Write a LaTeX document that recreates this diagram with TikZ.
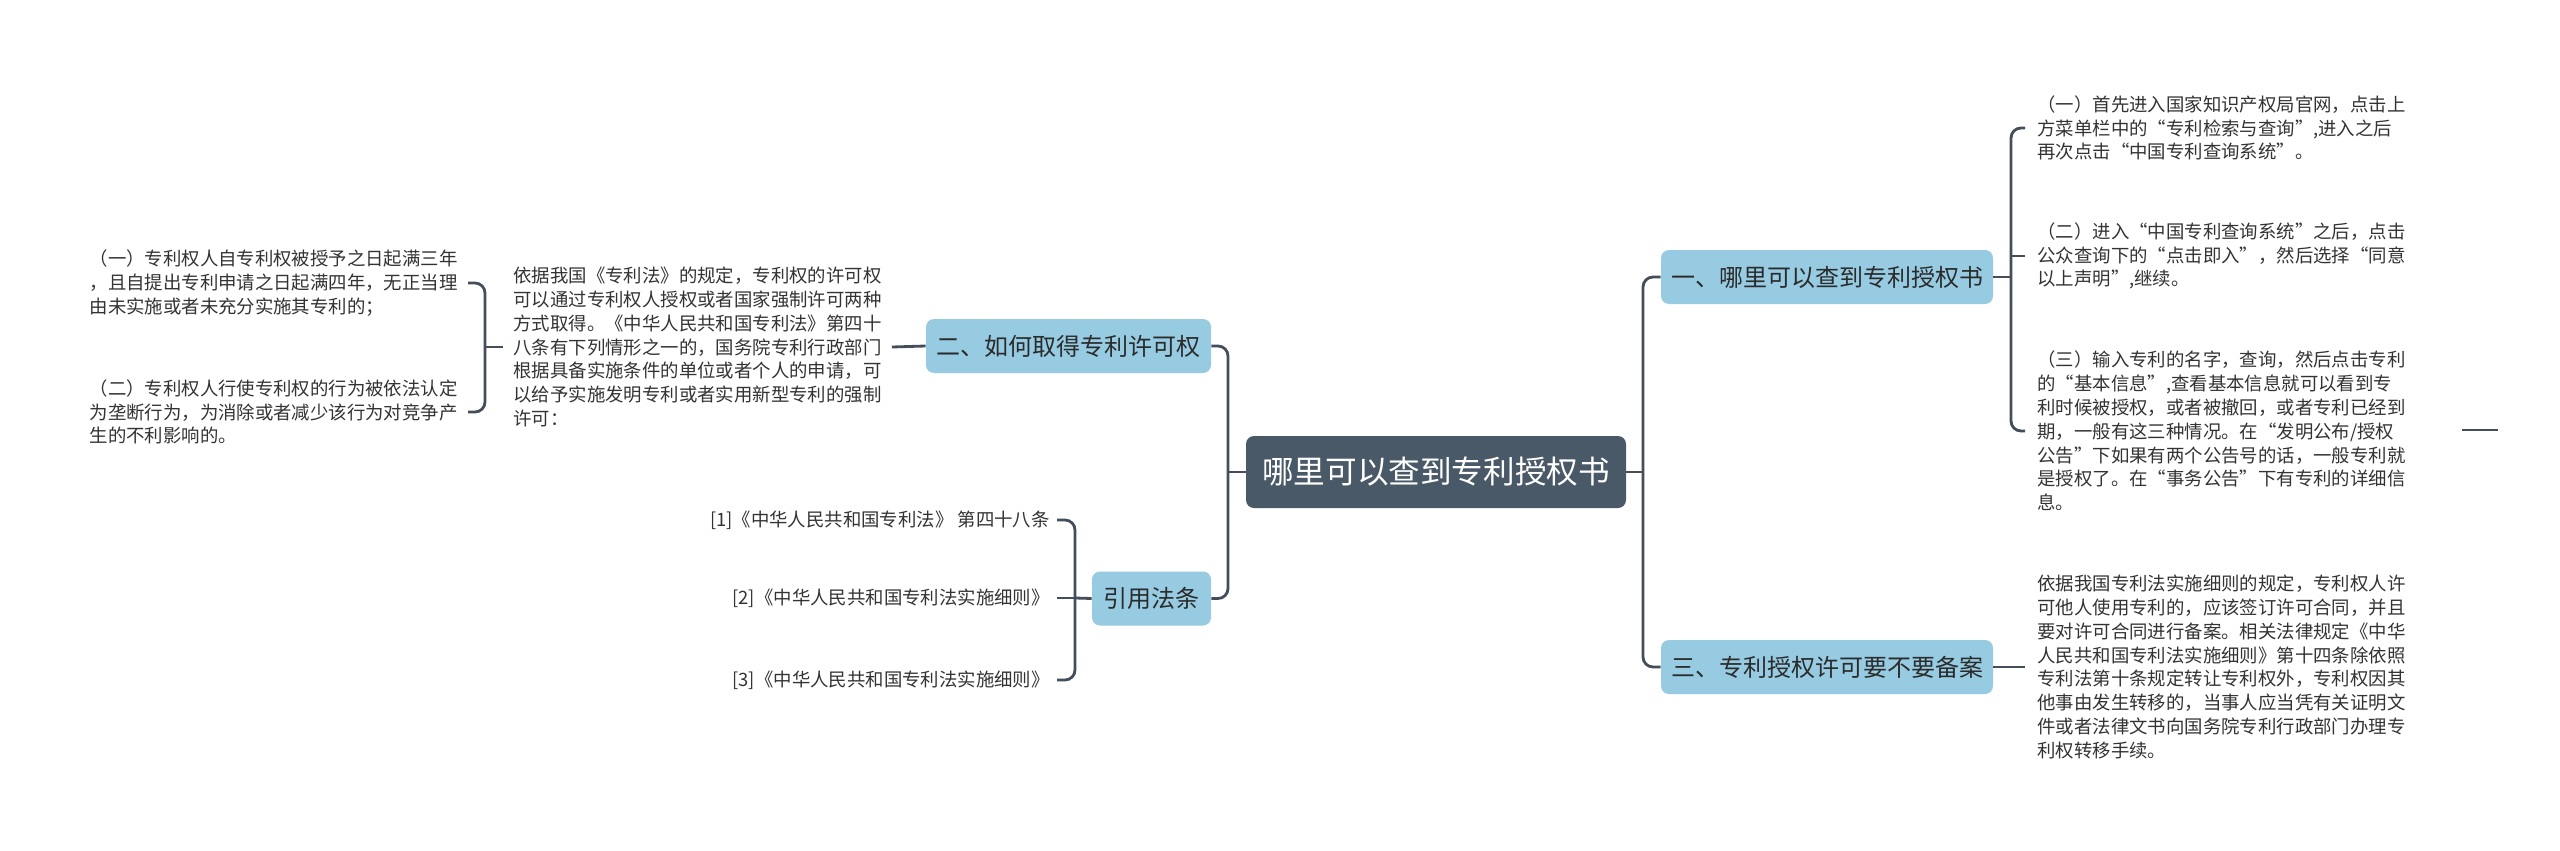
\documentclass[tikz,border=0pt]{standalone}
\usepackage{fontspec}
\setmainfont{Noto Sans CJK SC}
\definecolor{connc}{HTML}{434E5A}
\definecolor{topicblue}{HTML}{96CBE2}
\definecolor{rootc}{HTML}{4A5968}
\definecolor{boxtext}{HTML}{2B2B2B}
\definecolor{leaftext}{HTML}{333333}
\begin{document}
\begin{tikzpicture}[x=0.5pt,y=-0.5pt,
  conn/.style={draw=connc, line width=1.4pt, rounded corners=5pt},
  leafnode/.style={inner xsep=6pt, inner ysep=0pt, align=left, text=leaftext,
    font=\fontsize{9.2pt}{11.9pt}\selectfont},
  topicbox/.style={fill=topicblue, rounded corners=4pt, text=boxtext,
    font=\fontsize{12pt}{14pt}\selectfont, minimum height=27pt, inner sep=0pt},
  rootbox/.style={fill=rootc, rounded corners=4pt, text=white,
    font=\fontsize{15.8pt}{18pt}\selectfont, minimum width=190pt, minimum height=36pt, inner sep=0pt}]
\fill[white] (0,0) rectangle (2560,851);
\useasboundingbox (0,0) rectangle (2560,851);

% root
\node[rootbox] (root) at (1436,472) {哪里可以查到专利授权书};

% right topics
\node[topicbox, minimum width=166pt] (b1) at (1827,277) {一、哪里可以查到专利授权书};
\node[topicbox, minimum width=166pt] (b3) at (1827,667) {三、专利授权许可要不要备案};

% left topics
\node[topicbox, minimum width=142.5pt] (b2) at (1068.5,346) {二、如何取得专利许可权};
\node[topicbox, minimum width=59.5pt] (cite) at (1151.5,598.5) {引用法条};

% right leaves
\node[leafnode, anchor=west] (r1) at (2025,128) {（一）首先进入国家知识产权局官网，点击上\\方菜单栏中的“专利检索与查询”,进入之后\\再次点击“中国专利查询系统”。};
\node[leafnode, anchor=west] (r2) at (2025,256) {（二）进入“中国专利查询系统”之后，点击\\公众查询下的“点击即入”，然后选择“同意\\以上声明”,继续。};
\node[leafnode, anchor=west] (r3) at (2025,431) {（三）输入专利的名字，查询，然后点击专利\\的“基本信息”,查看基本信息就可以看到专\\利时候被授权，或者被撤回，或者专利已经到\\期，一般有这三种情况。在“发明公布/授权\\公告”下如果有两个公告号的话，一般专利就\\是授权了。在“事务公告”下有专利的详细信\\息。};
\node[leafnode, anchor=west] (r4) at (2025,667) {依据我国专利法实施细则的规定，专利权人许\\可他人使用专利的，应该签订许可合同，并且\\要对许可合同进行备案。相关法律规定《中华\\人民共和国专利法实施细则》第十四条除依照\\专利法第十条规定转让专利权外，专利权因其\\他事由发生转移的，当事人应当凭有关证明文\\件或者法律文书向国务院专利行政部门办理专\\利权转移手续。};

% left leaves
\node[leafnode, anchor=west, inner xsep=5pt] (L) at (503,347) {依据我国《专利法》的规定，专利权的许可权\\可以通过专利权人授权或者国家强制许可两种\\方式取得。《中华人民共和国专利法》第四十\\八条有下列情形之一的，国务院专利行政部门\\根据具备实施条件的单位或者个人的申请，可\\以给予实施发明专利或者实用新型专利的强制\\许可：};
\node[leafnode, anchor=east, inner xsep=5pt] (LL1) at (468,283) {（一）专利权人自专利权被授予之日起满三年\\，且自提出专利申请之日起满四年，无正当理\\由未实施或者未充分实施其专利的；};
\node[leafnode, anchor=east, inner xsep=5pt] (LL2) at (468,412) {（二）专利权人行使专利权的行为被依法认定\\为垄断行为，为消除或者减少该行为对竞争产\\生的不利影响的。};

% citations
\node[leafnode, anchor=east, inner xsep=3.5pt] (c1) at (1057,520) {[1]《中华人民共和国专利法》 第四十八条};
\node[leafnode, anchor=east, inner xsep=3.5pt] (c2) at (1057,598) {[2]《中华人民共和国专利法实施细则》};
\node[leafnode, anchor=east, inner xsep=3.5pt] (c3) at (1057,680) {[3]《中华人民共和国专利法实施细则》};

% junction coordinates
\coordinate (jl) at (1228,472);
\coordinate (jr) at (1643,472);
\coordinate (j1) at (2011,277);
\coordinate (jL) at (485,347);
\coordinate (jc) at (1075,598);
\coordinate (s1) at (2462,430);
\coordinate (s2) at (2498,430);

% connectors
\draw[conn] (root.west) -- (jl);
\draw[conn] (b2.east) -| (jl) |- (cite.east);
\draw[conn] (root.east) -- (jr);
\draw[conn] (b1.west) -| (jr) |- (b3.west);
\draw[conn] (b1.east) -- (j1);
\draw[conn] (r1.west) -| (j1) |- (r3.west);
\draw[conn] (r2.west) -- (j1 |- r2.west);
\draw[conn] (b3.east) -- (r4.west);
\draw[conn] (b2.west) -- (L.east);
\draw[conn] (L.west) -- (jL);
\draw[conn] (LL1.east) -| (jL) |- (LL2.east);
\draw[conn] (cite.west) -- (jc);
\draw[conn] (c1.east) -| (jc) |- (c3.east);
\draw[conn] (c2.east) -- (jc);
\draw[conn] (s1) -- (s2);
\end{tikzpicture}
\end{document}
